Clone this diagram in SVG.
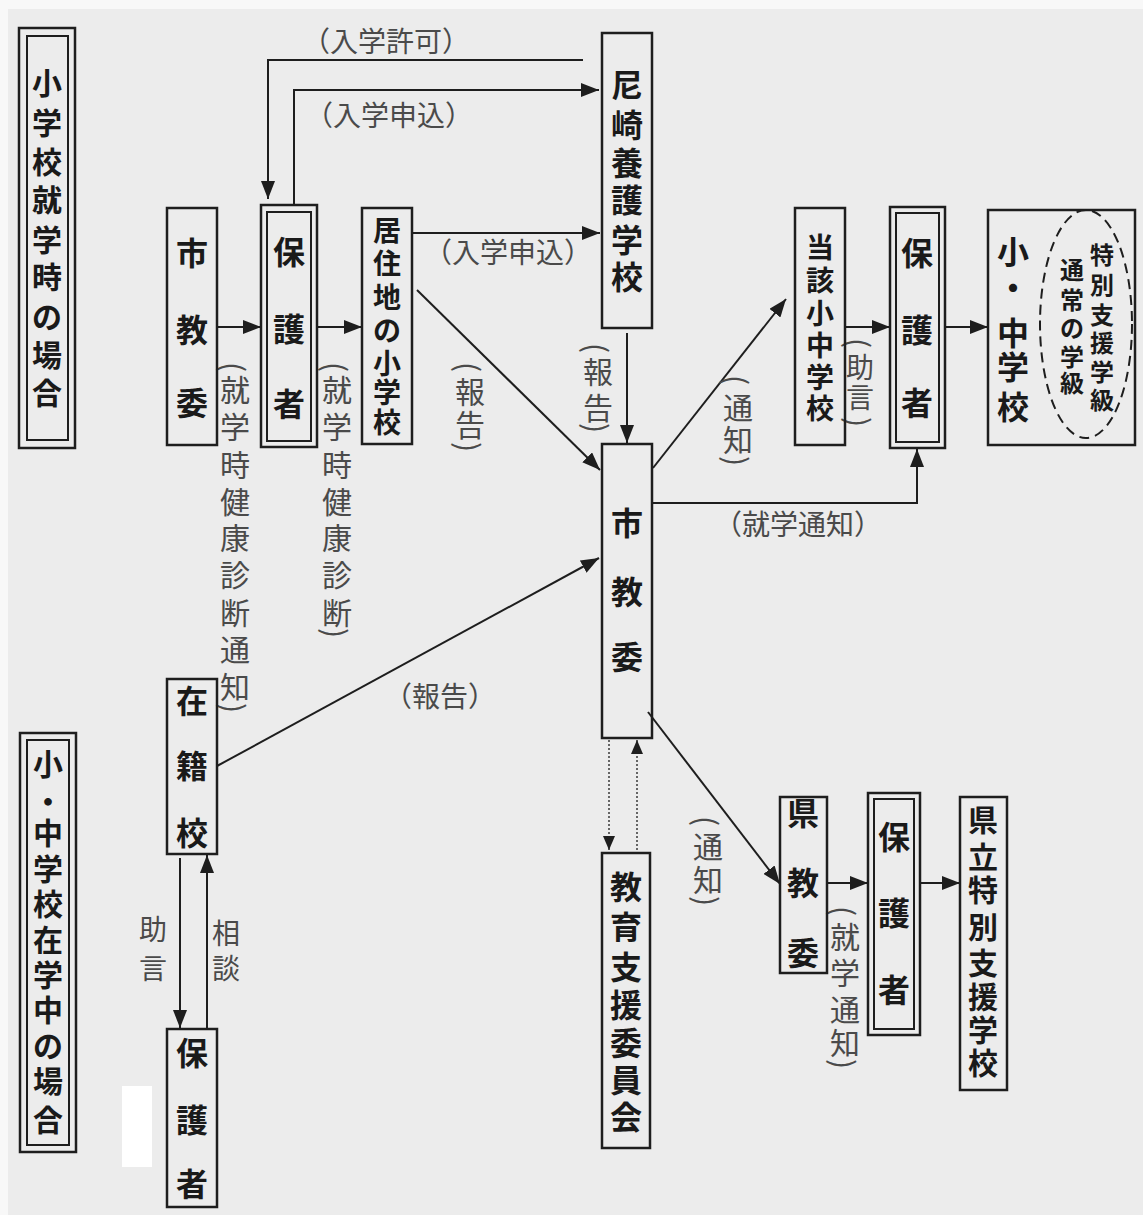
<svg xmlns="http://www.w3.org/2000/svg" width="1143" height="1215" viewBox="0 0 1143 1215">
<defs>
<marker id="ah" viewBox="0 0 18 14" refX="18" refY="7" markerWidth="18" markerHeight="14" markerUnits="userSpaceOnUse" orient="auto"><path d="M0,0 L18,7 L0,14 z" fill="#1e1e1e"/></marker>
<marker id="ahs" viewBox="0 0 14 12" refX="14" refY="6" markerWidth="14" markerHeight="12" markerUnits="userSpaceOnUse" orient="auto"><path d="M0,0 L14,6 L0,12 z" fill="#1e1e1e"/></marker>
<style>
.bx{fill:none;stroke:#1e1e1e;stroke-width:2.5}
.bi{fill:none;stroke:#1e1e1e;stroke-width:2}
.t{font-family:"Noto Sans CJK JP","Noto Sans CJK SC",sans-serif;fill:#1a1a1a;text-anchor:middle;font-weight:bold}
.l{font-family:"Noto Sans CJK JP","Noto Sans CJK SC",sans-serif;fill:#4a4a4a;text-anchor:middle}
.p{font-family:"Noto Sans CJK JP","Noto Sans CJK SC",sans-serif;fill:#4a4a4a;text-anchor:middle;dominant-baseline:central;font-size:30px}
.c{fill:none;stroke:#1e1e1e;stroke-width:2;marker-end:url(#ah)}
.d{fill:none;stroke:#444;stroke-width:1.6;stroke-dasharray:2 2;marker-end:url(#ahs)}
</style>
</defs>
<rect width="1143" height="1215" fill="#ececec"/>
<rect width="1143" height="9" fill="#f8f8f8"/>
<rect width="8" height="1215" fill="#f8f8f8"/>
<rect x="122" y="1086" width="30" height="81" fill="#ffffff"/>

<g id="connectors">
<polyline class="c" points="583,60 268,60 268,199"/>
<polyline class="c" points="294,205 294,90 599,90"/>
<line class="c" x1="217" y1="327" x2="261" y2="327"/>
<line class="c" x1="317" y1="327" x2="362" y2="327"/>
<line class="c" x1="412" y1="233" x2="600" y2="233"/>
<line class="c" x1="417" y1="290" x2="600" y2="470"/>
<line class="c" x1="627" y1="333" x2="627" y2="443"/>
<line class="c" x1="653" y1="468" x2="786" y2="299"/>
<line class="c" x1="845" y1="327" x2="890" y2="327"/>
<line class="c" x1="945" y1="327" x2="988" y2="327"/>
<polyline class="c" points="652,503 917,503 917,449"/>
<line class="c" x1="217" y1="766" x2="599" y2="558"/>
<line class="d" x1="609" y1="740" x2="609" y2="850"/>
<line class="d" x1="637" y1="850" x2="637" y2="740"/>
<line class="c" x1="648" y1="712" x2="780" y2="884"/>
<line class="c" x1="827" y1="883" x2="868" y2="883"/>
<line class="c" x1="920" y1="883" x2="960" y2="883"/>
<line class="c" x1="180" y1="858" x2="180" y2="1028"/>
<line class="c" x1="207" y1="1028" x2="207" y2="855"/>
</g>

<g id="labels">
<text class="l" x="386" y="52" font-size="28">（入学許可）</text>
<text class="l" x="389" y="126" font-size="28">（入学申込）</text>
<text class="l" x="508" y="263" font-size="28">（入学申込）</text>
<text class="l" x="798" y="535" font-size="28">（就学通知）</text>
<text class="l" x="440" y="707" font-size="28">（報告）</text>

<text class="p" x="235" y="367" transform="rotate(90 235 367)">(</text>
<text class="l" font-size="30" x="235 235 235 235 235 235 235 235 235" y="401 438 476 513 549 586 624 661 698">就学時健康診断通知</text>
<text class="p" x="235" y="708" transform="rotate(90 235 708)">)</text>

<text class="p" x="337" y="367" transform="rotate(90 337 367)">(</text>
<text class="l" font-size="30" x="337 337 337 337 337 337 337" y="401 438 476 513 549 586 624">就学時健康診断</text>
<text class="p" x="337" y="633" transform="rotate(90 337 633)">)</text>

<text class="p" x="470" y="367" transform="rotate(90 470 367)">(</text>
<text class="l" font-size="30" x="470 470" y="403 436">報告</text>
<text class="p" x="470" y="447" transform="rotate(90 470 447)">)</text>

<text class="p" x="598" y="348" transform="rotate(90 598 348)">(</text>
<text class="l" font-size="30" x="598 598" y="383 419">報告</text>
<text class="p" x="598" y="428" transform="rotate(90 598 428)">)</text>

<text class="p" x="738" y="380" transform="rotate(90 738 380)">(</text>
<text class="l" font-size="30" x="738 738" y="419 451">通知</text>
<text class="p" x="738" y="461" transform="rotate(90 738 461)">)</text>

<text class="p" x="860" y="343" transform="rotate(90 860 343)">(</text>
<text class="l" font-size="28" x="860 860" y="378 408">助言</text>
<text class="p" x="860" y="422" transform="rotate(90 860 422)">)</text>

<text class="p" x="708" y="821" transform="rotate(90 708 821)">(</text>
<text class="l" font-size="30" x="708 708" y="858 891">通知</text>
<text class="p" x="708" y="901" transform="rotate(90 708 901)">)</text>

<text class="p" x="845" y="911" transform="rotate(90 845 911)">(</text>
<text class="l" font-size="30" x="845 845 845 845" y="948 984 1021 1054">就学通知</text>
<text class="p" x="845" y="1064" transform="rotate(90 845 1064)">)</text>

<text class="l" font-size="28" x="153 153" y="940 979">助言</text>
<text class="l" font-size="28" x="226 226" y="944 979">相談</text>
</g>

<g id="title1">
<rect class="bx" x="19" y="28" width="56" height="420"/>
<rect class="bi" x="27" y="36" width="41" height="404"/>
<text class="t" font-size="30" x="47 47 47 47 47 47 47 47 47" y="94 134 173 211 251 288 328 366 404">小学校就学時の場合</text>
</g>

<g id="shikyoui1">
<rect class="bx" x="167" y="208" width="50" height="237"/>
<text class="t" font-size="32" x="192 192 192" y="265 342 415">市教委</text>
</g>

<g id="hogosha1">
<rect class="bx" x="261" y="205" width="56" height="242"/>
<rect class="bi" x="267" y="212" width="44" height="229"/>
<text class="t" font-size="32" x="289 289 289" y="264 341 416">保護者</text>
</g>

<g id="kyojuchi">
<rect class="bx" x="362" y="208" width="50" height="236"/>
<text class="t" font-size="28" x="387 387 387 387 387 387 387" y="241 274 308 341 374 403 433">居住地の小学校</text>
</g>

<g id="amagasaki">
<rect class="bx" x="602" y="33" width="50" height="295"/>
<text class="t" font-size="32" x="627 627 627 627 627 627" y="97 137 175 212 252 289">尼崎養護学校</text>
</g>

<g id="shikyoui2">
<rect class="bx" x="602" y="444" width="50" height="294"/>
<text class="t" font-size="32" x="627 627 627" y="535 604 669">市教委</text>
</g>

<g id="tougai">
<rect class="bx" x="795" y="208" width="50" height="237"/>
<text class="t" font-size="28" x="820 820 820 820 820 820" y="258 291 324 356 388 419">当該小中学校</text>
</g>

<g id="hogosha2">
<rect class="bx" x="890" y="207" width="55" height="241"/>
<rect class="bi" x="896" y="213" width="43" height="229"/>
<text class="t" font-size="32" x="917 917 917" y="265 342 415">保護者</text>
</g>

<g id="shouchu">
<rect class="bx" x="988" y="210" width="147" height="235"/>
<text class="t" font-size="32" x="1013 1013 1013 1013 1013" y="264 300 345 379 419">小・中学校</text>
<ellipse cx="1086" cy="324" rx="46" ry="114" fill="none" stroke="#1e1e1e" stroke-width="2" stroke-dasharray="10 6"/>
<text class="t" font-size="24" x="1102 1102 1102 1102 1102 1102" y="264 294 324 352 381 409">特別支援学級</text>
<text class="t" font-size="24" x="1072 1072 1072 1072 1072" y="279 309 337 366 392">通常の学級</text>
</g>

<g id="zaiseki">
<rect class="bx" x="167" y="679" width="50" height="175"/>
<text class="t" font-size="32" x="192 192 192" y="713 778 845">在籍校</text>
</g>

<g id="hogosha3">
<rect class="bx" x="167" y="1029" width="50" height="178"/>
<text class="t" font-size="32" x="192 192 192" y="1065 1132 1196">保護者</text>
</g>

<g id="title2">
<rect class="bx" x="20" y="733" width="56" height="419"/>
<rect class="bi" x="27" y="740" width="42" height="405"/>
<text class="t" font-size="30" x="48 48 48 48 48 48 48 48 48 48 48" y="775 813 844 880 915 951 986 1021 1057 1092 1131">小・中学校在学中の場合</text>
</g>

<g id="kyouiku">
<rect class="bx" x="602" y="853" width="48" height="295"/>
<text class="t" font-size="32" x="626 626 626 626 626 626 626" y="899 939 979 1017 1055 1092 1129">教育支援委員会</text>
</g>

<g id="kenkyoui">
<rect class="bx" x="780" y="797" width="47" height="176"/>
<text class="t" font-size="32" x="803 803 803" y="825 895 965">県教委</text>
</g>

<g id="hogosha4">
<rect class="bx" x="868" y="793" width="52" height="242"/>
<rect class="bi" x="874" y="799" width="40" height="230"/>
<text class="t" font-size="32" x="894 894 894" y="849 925 1002">保護者</text>
</g>

<g id="kenritsu">
<rect class="bx" x="960" y="797" width="47" height="293"/>
<text class="t" font-size="30" x="983 983 983 983 983 983 983 983" y="831 868 901 938 974 1008 1041 1074">県立特別支援学校</text>
</g>
</svg>
